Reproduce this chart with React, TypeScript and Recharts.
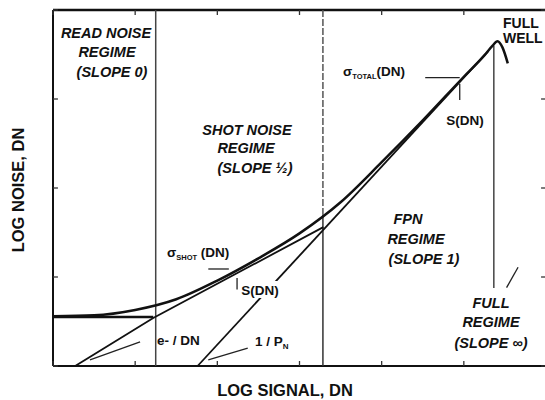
import React from "react";
import {
  LineChart,
  Line,
  XAxis,
  YAxis,
  ReferenceLine,
} from "recharts";

// log signal (decades) vs log noise (decades)
const xTicks = [0, 1, 2, 3, 4, 5, 6];
const yTicks = [0, 1, 2, 3, 4];

const readFloor = [
  { u: 0, v: 0.55 },
  { u: 1.22, v: 0.55 },
];

const shotLine = [
  { u: 0.27, v: 0 },
  { u: 1.22, v: 0.54 },
  { u: 3.29, v: 1.56 },
];

const fpnLine = [
  { u: 1.76, v: 0 },
  { u: 5.3, v: 3.54 },
];

const totalCurve = [
  { u: 0, v: 0.56 },
  { u: 0.5, v: 0.57 },
  { u: 1.0, v: 0.63 },
  { u: 1.5, v: 0.75 },
  { u: 2.0, v: 0.96 },
  { u: 2.5, v: 1.21 },
  { u: 3.0, v: 1.49 },
  { u: 3.5, v: 1.84 },
  { u: 4.0, v: 2.29 },
  { u: 4.5, v: 2.76 },
  { u: 5.0, v: 3.25 },
  { u: 5.25, v: 3.49 },
  { u: 5.35, v: 3.6 },
  { u: 5.41, v: 3.65 },
  { u: 5.47, v: 3.58 },
  { u: 5.535, v: 3.4 },
];

// regime boundaries
const readShotBoundary = 1.25;
const shotFpnBoundary = 3.285;
const fullWell = { u: 5.365, top: 3.6, bottom: 0.876 };

// leader lines [from, to]
const leaders = [
  [{ x: 4.53, y: 3.24 }, { x: 4.95, y: 3.24 }],
  [{ x: 4.95, y: 3.17 }, { x: 4.95, y: 2.99 }],
  [{ x: 1.89, y: 1.09 }, { x: 2.14, y: 1.09 }],
  [{ x: 2.24, y: 0.99 }, { x: 2.24, y: 0.86 }],
  [{ x: 1.06, y: 0.27 }, { x: 0.45, y: 0.07 }],
  [{ x: 2.37, y: 0.2 }, { x: 1.89, y: 0.07 }],
  [{ x: 5.52, y: 0.88 }, { x: 5.66, y: 1.11 }],
];

// tick length in data units (about 5px)
const xTickLen = 0.056;
const yTickLen = 0.06;

const ink = "#111";
const font = "'Liberation Sans', Arial, sans-serif";

const regime = {
  fontFamily: font,
  fontSize: 14.5,
  fontWeight: 700,
  fontStyle: "italic" as const,
  fill: ink,
  textAnchor: "middle" as const,
};

const plain = {
  fontFamily: font,
  fontSize: 13.5,
  fontWeight: 700,
  fill: ink,
};

const ax = { xAxisId: "b", yAxisId: "l", ifOverflow: "visible" as const };

export default function App() {
  return (
    <div
      style={{
        position: "absolute",
        left: 0,
        top: 0,
        width: 545,
        height: 400,
        overflow: "hidden",
        background: "#fff",
      }}
    >
      <LineChart
        width={550}
        height={400}
        margin={{ top: 10, right: 4, bottom: 34, left: 53 }}
      >
        <XAxis xAxisId="b" type="number" dataKey="u" domain={[0, 6]} hide />
        <YAxis yAxisId="l" type="number" domain={[0, 4]} hide />

        {/* frame */}
        <ReferenceLine {...ax} segment={[{ x: 0, y: 4 }, { x: 6, y: 4 }]} stroke={ink} strokeWidth={2.5} />
        <ReferenceLine {...ax} segment={[{ x: 0, y: 0 }, { x: 6, y: 0 }]} stroke={ink} strokeWidth={2} />
        <ReferenceLine {...ax} segment={[{ x: 0, y: 0 }, { x: 0, y: 4 }]} stroke={ink} strokeWidth={2} />
        <ReferenceLine {...ax} segment={[{ x: 6, y: 0 }, { x: 6, y: 4 }]} stroke={ink} strokeWidth={2} />
        {xTicks.map((t) => (
          <ReferenceLine key={"xb" + t} {...ax} segment={[{ x: t, y: 0 }, { x: t, y: xTickLen }]} stroke="#333" strokeWidth={1.3} />
        ))}
        {xTicks.map((t) => (
          <ReferenceLine key={"xt" + t} {...ax} segment={[{ x: t, y: 4 }, { x: t, y: 4 - xTickLen }]} stroke="#333" strokeWidth={1.3} />
        ))}
        {yTicks.map((t) => (
          <ReferenceLine key={"yl" + t} {...ax} segment={[{ x: 0, y: t }, { x: yTickLen, y: t }]} stroke="#333" strokeWidth={1.3} />
        ))}
        {yTicks.map((t) => (
          <ReferenceLine key={"yr" + t} {...ax} segment={[{ x: 6, y: t }, { x: 6 - yTickLen, y: t }]} stroke="#333" strokeWidth={1.3} />
        ))}

        {/* regime boundaries */}
        <ReferenceLine
          {...ax}
          segment={[{ x: readShotBoundary, y: 4 }, { x: readShotBoundary, y: 0 }]}
          stroke="#444"
          strokeWidth={1.5}
        />
        <ReferenceLine
          {...ax}
          segment={[{ x: shotFpnBoundary, y: 4 }, { x: shotFpnBoundary, y: 1.7 }]}
          stroke="#555"
          strokeWidth={1.5}
          strokeDasharray="7 2"
        />
        <ReferenceLine
          {...ax}
          segment={[{ x: shotFpnBoundary, y: 1.7 }, { x: shotFpnBoundary, y: 0 }]}
          stroke="#333"
          strokeWidth={1.5}
        />
        <ReferenceLine
          {...ax}
          segment={[{ x: fullWell.u, y: fullWell.top }, { x: fullWell.u, y: fullWell.bottom }]}
          stroke="#444"
          strokeWidth={1.5}
        />
        {leaders.map((seg, i) => (
          <ReferenceLine key={"ld" + i} {...ax} segment={seg} stroke="#222" strokeWidth={1.3} />
        ))}

        <Line
          xAxisId="b"
          yAxisId="l"
          data={readFloor}
          dataKey="v"
          type="linear"
          stroke={ink}
          strokeWidth={2.5}
          dot={false}
          isAnimationActive={false}
        />
        <Line
          xAxisId="b"
          yAxisId="l"
          data={shotLine}
          dataKey="v"
          type="linear"
          stroke={ink}
          strokeWidth={1.8}
          dot={false}
          isAnimationActive={false}
        />
        <Line
          xAxisId="b"
          yAxisId="l"
          data={fpnLine}
          dataKey="v"
          type="linear"
          stroke={ink}
          strokeWidth={1.8}
          dot={false}
          isAnimationActive={false}
        />
        <Line
          xAxisId="b"
          yAxisId="l"
          data={totalCurve}
          dataKey="v"
          type="monotone"
          stroke={ink}
          strokeWidth={2.5}
          dot={false}
          isAnimationActive={false}
        />
      </LineChart>

      <svg
        width={545}
        height={400}
        style={{ position: "absolute", left: 0, top: 0, pointerEvents: "none" }}
      >
        <text {...regime} x={106} y={38}>READ NOISE</text>
        <text {...regime} x={107} y={57}>REGIME</text>
        <text {...regime} x={112} y={77}>(SLOPE 0)</text>

        <text {...regime} x={247} y={135}>SHOT NOISE</text>
        <text {...regime} x={246} y={153}>REGIME</text>
        <text {...regime} x={255} y={173}>(SLOPE ½)</text>

        <text {...regime} x={408} y={224}>FPN</text>
        <text {...regime} x={416} y={244}>REGIME</text>
        <text {...regime} x={424} y={264}>(SLOPE 1)</text>

        <text {...regime} x={491} y={308}>FULL</text>
        <text {...regime} x={491} y={327}>REGIME</text>
        <text {...regime} x={491} y={348}>(SLOPE ∞)</text>

        <text {...plain} fontSize={14} x={503} y={28}>FULL</text>
        <text {...plain} fontSize={14} x={503} y={43}>WELL</text>

        <text {...plain} x={343} y={76}>
          σ<tspan fontSize={7.5} dy={3}>TOTAL</tspan>
          <tspan dy={-3}>(DN)</tspan>
        </text>
        <text {...plain} x={465} y={125} textAnchor="middle">S(DN)</text>

        <text {...plain} x={167} y={257}>
          σ<tspan fontSize={7.5} dy={3}>SHOT</tspan>
          <tspan dy={-3}> (DN)</tspan>
        </text>
        <rect x={240} y={281} width={43} height={17} fill="#fff" />
        <text {...plain} x={260} y={295} textAnchor="middle">S(DN)</text>

        <text {...plain} x={157} y={345}>e- / DN</text>
        <text {...plain} x={255} y={346}>
          1 / P<tspan fontSize={8} dy={3}>N</tspan>
        </text>

        <text
          {...plain}
          fontSize={16.5}
          x={285}
          y={396}
          textAnchor="middle"
        >
          LOG SIGNAL, DN
        </text>
        <text
          {...plain}
          fontSize={16.5}
          x={0}
          y={0}
          textAnchor="middle"
          transform="translate(24 190) rotate(-90)"
        >
          LOG NOISE, DN
        </text>
      </svg>
    </div>
  );
}
